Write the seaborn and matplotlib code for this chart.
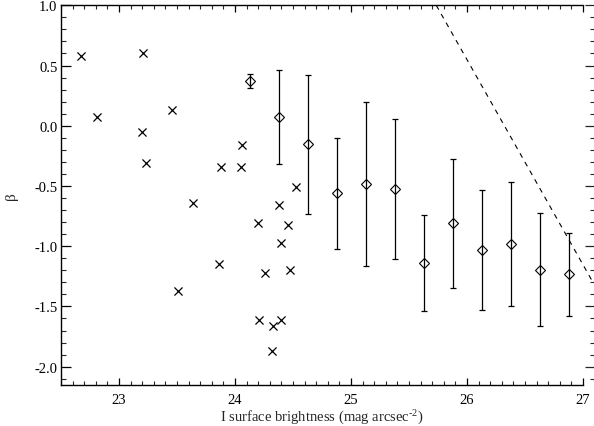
import numpy as np
import pandas as pd
import matplotlib
matplotlib.use("Agg")
import matplotlib.pyplot as plt
from matplotlib.ticker import MultipleLocator, FormatStrFormatter
import seaborn as sns

# individual points (crosses)
cross_x = [22.67, 22.81, 23.21, 23.20, 23.23, 23.46, 23.88, 24.05, 24.06, 24.53,
           23.64, 24.38, 24.20, 24.46, 24.40, 23.86, 24.26, 24.47, 23.51, 24.21,
           24.40, 24.33, 24.32]
cross_y = [0.58, 0.07, 0.60, -0.05, -0.31, 0.13, -0.34, -0.34, -0.16, -0.51,
           -0.64, -0.66, -0.81, -0.82, -0.97, -1.15, -1.22, -1.20, -1.375, -1.61,
           -1.61, -1.66, -1.87]

# binned means (diamonds) with errors
bin_x = [24.125, 24.375, 24.625, 24.875, 25.125, 25.375, 25.625, 25.875,
         26.125, 26.375, 26.625, 26.875]
bin_y = [0.37, 0.075, -0.155, -0.56, -0.485, -0.525, -1.14, -0.81,
         -1.03, -0.98, -1.195, -1.235]
bin_err = [0.06, 0.39, 0.58, 0.46, 0.68, 0.58, 0.395, 0.535,
           0.50, 0.515, 0.47, 0.345]

# dashed limit line endpoints
line_x = [25.735, 27.08]
line_y = [1.0, -1.29]

sns.set_style("ticks")
plt.rcParams['font.family'] = ['Liberation Serif', 'DejaVu Serif']
plt.rcParams['mathtext.fontset'] = 'custom'
plt.rcParams['mathtext.rm'] = 'Liberation Serif'
plt.rcParams['mathtext.it'] = 'Liberation Serif:italic'
plt.rcParams['axes.unicode_minus'] = False

W, H = 594, 427
fig = plt.figure(figsize=(W / 100, H / 100), dpi=100)
left, right, top, bottom = 61, 583, 6.3, 385.7
ax = fig.add_axes([left / W, 1 - bottom / H, (right - left) / W, (bottom - top) / H])

df_c = pd.DataFrame({"x": cross_x, "y": cross_y})
df_b = pd.DataFrame({"x": bin_x, "y": bin_y, "e": bin_err})

ax.errorbar(df_b["x"], df_b["y"], yerr=df_b["e"], fmt="none", ecolor="black",
            elinewidth=0.9, capsize=2.2, capthick=0.9, zorder=2)
sns.scatterplot(data=df_c, x="x", y="y", marker="x", color="black", s=34,
                linewidth=0.9, ax=ax, zorder=3, legend=False)
ax.plot(df_b["x"], df_b["y"], linestyle="none", marker="D", markersize=5.4,
        markerfacecolor="none", markeredgecolor="black", markeredgewidth=0.8, zorder=4)
ax.plot(line_x, line_y, color="black", lw=0.8, linestyle=(0, (4.5, 4.5)),
        clip_on=False, zorder=1)

ax.set_xlim(22.5, 27.0)
ax.set_ylim(-2.15, 1.0)
ax.xaxis.set_major_locator(MultipleLocator(1))
ax.xaxis.set_minor_locator(MultipleLocator(0.1))
ax.yaxis.set_major_locator(MultipleLocator(0.5))
ax.yaxis.set_minor_locator(MultipleLocator(0.1))
ax.yaxis.set_major_formatter(FormatStrFormatter("%.1f"))
ax.xaxis.set_major_formatter(FormatStrFormatter("%d"))

for s in ["left", "bottom", "top"]:
    ax.spines[s].set_linewidth(1.0)
    ax.spines[s].set_color("black")
ax.spines["right"].set_visible(False)

ax.tick_params(axis="x", which="major", direction="in", length=5, width=0.9,
               top=True, bottom=True, labelsize=10.5, pad=6, colors="black")
ax.tick_params(axis="x", which="minor", direction="in", length=2.6, width=0.8,
               top=True, bottom=True)
ax.tick_params(axis="y", which="major", direction="in", length=7.5, width=0.9,
               left=True, right=False, labelsize=10.5, pad=2.5, colors="black")
ax.tick_params(axis="y", which="minor", direction="in", length=3.6, width=0.8,
               left=True, right=False)

ax.set_xlabel(r"I surface brightness (mag arcsec$^{\text{-2}}$)", fontsize=10.5, labelpad=1)
ax.set_ylabel("β", fontsize=11, labelpad=12)

# right-hand tick marks (offset axis at the image edge)
ax2 = fig.add_axes([left / W, 1 - bottom / H, (595 - left) / W, (bottom - top) / H])
ax2.set_ylim(ax.get_ylim())
ax2.patch.set_visible(False)
for s in ax2.spines.values():
    s.set_visible(False)
ax2.set_xticks([])
ax2.yaxis.tick_right()
ax2.yaxis.set_major_locator(MultipleLocator(0.5))
ax2.yaxis.set_minor_locator(MultipleLocator(0.1))
ax2.tick_params(axis="y", which="major", direction="in", length=7, width=0.9,
                labelright=False, right=True, left=False)
ax2.tick_params(axis="y", which="minor", direction="in", length=3.6, width=0.8,
                right=True, left=False)

fig.savefig("out.png", dpi=100)
